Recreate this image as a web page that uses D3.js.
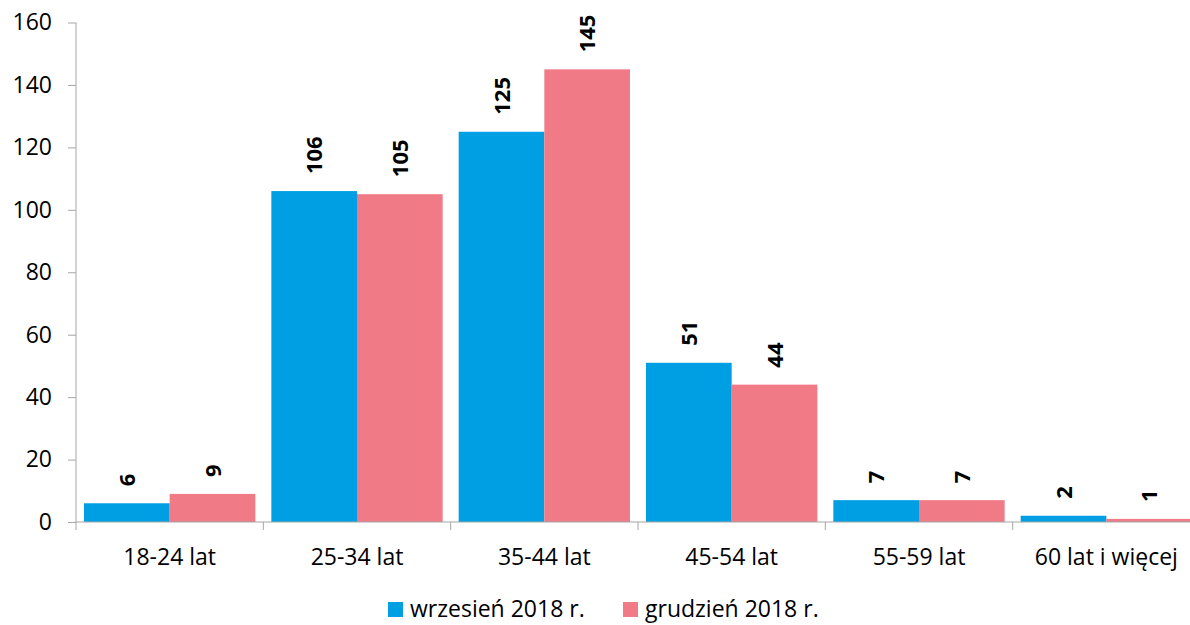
<!DOCTYPE html>
<html><head><meta charset="utf-8">
<script src="https://cdn.jsdelivr.net/npm/d3@7"></script>
<style>body{margin:0;background:#fff}svg{display:block}text{font-family:"Open Sans",sans-serif}</style>
</head><body>
<svg id="c" width="1190" height="625"></svg>
<script>
const categories = ["18-24 lat","25-34 lat","35-44 lat","45-54 lat","55-59 lat","60 lat i więcej"];
const seriesNames = ["wrzesień 2018 r.","grudzień 2018 r."];
const wrzesien = [6,106,125,51,7,2];
const grudzien = [9,105,145,44,7,1];
const yTicks = [0,20,40,60,80,100,120,140,160];
const colors = ["#009FE3","#F07A85"];

const svg = d3.select("#c");
const L = 76, R = 1200, T = 22.5, B = 522;
const x0 = d3.scaleBand().domain(categories).range([L,R]).paddingInner(0).paddingOuter(0);
const x1 = d3.scaleBand().domain([0,1]).range([8, x0.bandwidth()-8]);
const y = d3.scaleLinear().domain([0,160]).range([B,T]);
const series = [wrzesien, grudzien];

const g = svg.append("g");
categories.forEach((c,i)=>{
  series.forEach((s,j)=>{
    g.append("rect").attr("x",x0(c)+x1(j)).attr("y",y(s[i])).attr("width",x1.bandwidth()).attr("height",B-y(s[i])).attr("fill",colors[j]);
    g.append("text").attr("transform",`translate(${x0(c)+x1(j)+x1.bandwidth()/2+8},${y(s[i])-17}) rotate(-90)`)
      .attr("font-size",22).attr("font-weight","bold").attr("fill","#000").text(s[i]);
  });
});

// y axis
const ya = svg.append("g").attr("transform",`translate(${L},0)`).call(d3.axisLeft(y).tickValues(yTicks).tickSize(8).tickPadding(16));
ya.select(".domain").attr("stroke","#A6A6A6").attr("d",`M0,${T}V${B}`);
ya.selectAll(".tick line").attr("stroke","#A6A6A6");
ya.selectAll(".tick text").attr("font-size",23).attr("fill","#000");

// x axis
const xa = svg.append("g").attr("transform",`translate(0,${B})`).call(d3.axisBottom(x0).tickSize(0).tickPadding(27));
xa.select(".domain").attr("stroke","#A6A6A6").attr("d",`M${L},0H${R}`);
xa.selectAll(".tick text").attr("font-size",23).attr("fill","#000");
const bounds = categories.map(c=>x0(c)).concat([R]);
svg.append("g").selectAll("line").data(bounds).join("line")
  .attr("x1",d=>d).attr("x2",d=>d).attr("y1",B).attr("y2",B+8).attr("stroke","#A6A6A6");

// legend
const leg = svg.append("g");
const lx = [388, 623];
seriesNames.forEach((n,j)=>{
  leg.append("rect").attr("x",lx[j]).attr("y",602).attr("width",15).attr("height",15).attr("fill",colors[j]);
  leg.append("text").attr("x",lx[j]+22).attr("y",617).attr("font-size",23).attr("fill","#000").text(n);
});
</script>
</body></html>
